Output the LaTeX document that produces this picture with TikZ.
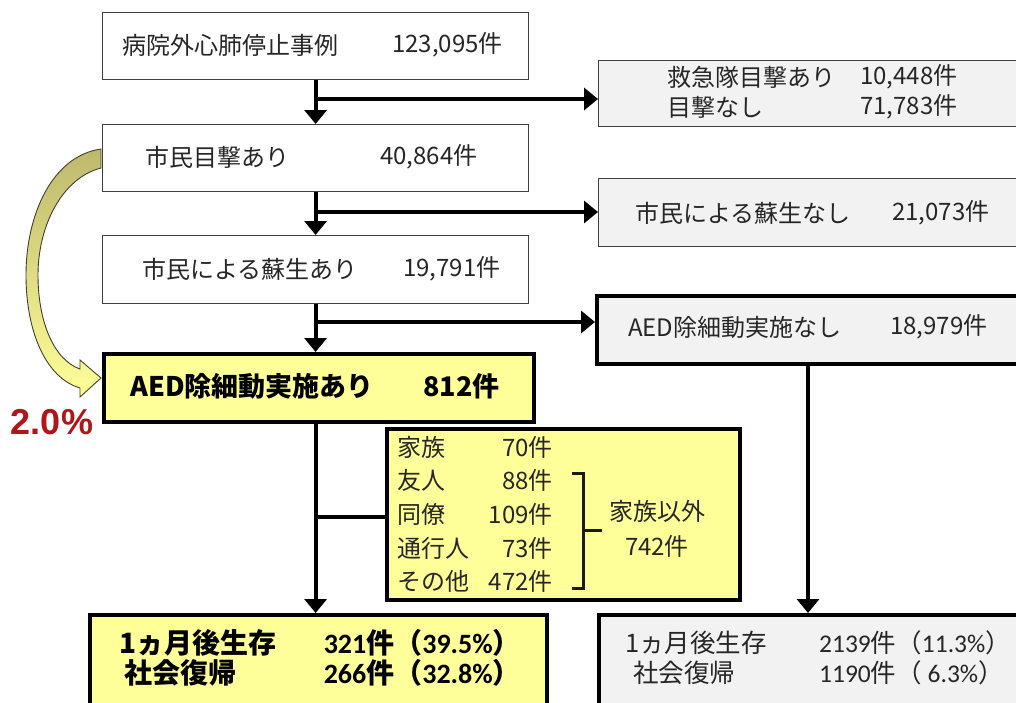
\documentclass[tikz,border=0pt]{standalone}
\usepackage{fontspec}
\setmainfont{Noto Sans CJK JP}
\newfontfamily\carl{Carlito}
\newfontfamily\libs{Liberation Sans}
\usetikzlibrary{arrows.meta}
\definecolor{boxgrey}{RGB}{242,242,242}
\definecolor{boxyel}{RGB}{255,255,153}
\definecolor{pctred}{RGB}{176,21,27}
\definecolor{olivetop}{RGB}{190,184,110}
\definecolor{txtc}{RGB}{38,38,38}
\tikzset{
  thinbox/.style={draw=black!75, line width=1.2pt, fill=white, inner sep=0, anchor=north west},
  greybox/.style={draw=black!75, line width=1.2pt, fill=boxgrey, inner sep=0, anchor=north west},
  thickgrey/.style={draw=black, line width=3.5pt, fill=boxgrey, inner sep=0, anchor=north west},
  yelbox/.style={draw=black, line width=3.5pt, fill=boxyel, inner sep=0, anchor=north west},
  txt/.style={inner sep=0, anchor=west, text=txtc, font=\fontsize{24}{28}\selectfont},
  txtr/.style={txt, anchor=east},
  txtc/.style={txt, anchor=center},
  bold/.style={txt, text=black, font=\fontsize{27}{31}\selectfont\bfseries},
  flow/.style={line width=4pt, -{Triangle[width=22pt,length=14pt]}},
  plain/.style={line width=4pt},
}
\begin{document}
\begin{tikzpicture}[x=1pt,y=-1pt]
\useasboundingbox (0,0) rectangle (1016,702);
\clip (0,0) rectangle (1016,702);
\fill[white] (0,0) rectangle (1016,702);

% boxes
\node[thinbox, minimum width=426pt, minimum height=67pt] (b1) at (102,12) {};
\node[thinbox, minimum width=426pt, minimum height=67pt] (b2) at (102,124) {};
\node[thinbox, minimum width=426pt, minimum height=68pt] (b3) at (102,235) {};
\node[yelbox, minimum width=430pt, minimum height=68pt] (b4) at (102,352) {};
\node[greybox, minimum width=430pt, minimum height=66pt] (r1) at (598,60) {};
\node[greybox, minimum width=430pt, minimum height=68pt] (r2) at (598,178) {};
\node[thickgrey, minimum width=440pt, minimum height=68pt] (r3) at (595,294) {};
\node[yelbox, minimum width=353pt, minimum height=171pt] (in) at (385,427) {};
\node[yelbox, minimum width=457pt, minimum height=100pt] (bl) at (88,613) {};
\node[thickgrey, minimum width=440pt, minimum height=100pt] (br) at (597,613) {};

% connectors
\draw[flow] (b1.south) -- (b2.north);
\draw[flow] (b1.south |- 0,99) coordinate (j1) -- (j1 -| r1.west);
\draw[flow] (b2.south) -- (b3.north);
\draw[flow] (b2.south |- 0,212) coordinate (j2) -- (j2 -| r2.west);
\draw[flow] (b3.south) -- (b3.south |- b4.north);
\draw[flow] (b3.south |- 0,322) coordinate (j3) -- (j3 -| r3.west);
\draw[flow] (b3.south |- b4.south) -- (b3.south |- bl.north);
\draw[plain] (b3.south |- 0,517) coordinate (j4) -- (j4 -| in.west);
\coordinate (rv) at (808,362);
\draw[flow] (rv) -- (rv |- br.north);

% curved block arrow
\shade[top color=olivetop, bottom color=boxyel, draw=black!70!olive, line width=0.9pt]
  (101,149) .. controls (52,156) and (26,215) .. (26,275)
  .. controls (26,332) and (46,378) .. (80,388)
  -- (80,397) -- (101,378) -- (80,360) -- (80,369)
  .. controls (54,360) and (38,322) .. (38,275)
  .. controls (38,226) and (62,178) .. (101,168) -- cycle;

% texts
\node[txt] (t1) at (122,45) {病院外心肺停止事例};
\node[txt] (n1) at (392,45) {123,095件};
\node[txt] (t2) at (145,157) {市民目撃あり};
\node[txt] (n2) at (380,157) {40,864件};
\node[txt] (t3) at (142,269) {市民による蘇生あり};
\node[txt] (n3) at (403,269) {19,791件};
\node[bold] (t4) at (130,386) {AED除細動実施あり};
\node[bold] (n4) at (423,386) {812件};

\node[txt] (rt1) at (667,77) {救急隊目撃あり};
\node[txt] (rn1) at (860,77) {10,448件};
\node[txt] (rt1b) at (667,107) {目撃なし};
\node[txt] (rn1b) at (860,107) {71,783件};
\node[txt] (rt2) at (635,213) {市民による蘇生なし};
\node[txt] (rn2) at (892,213) {21,073件};
\node[txt] (rt3) at (628,327) {AED除細動実施なし};
\node[txt] (rn3) at (890,327) {18,979件};

\node[txt] (i1) at (397,447) {家族};
\node[txtr] (k1) at (553,447) {70件};
\node[txt] (i2) at (397,480) {友人};
\node[txtr] (k2) at (553,480) {88件};
\node[txt] (i3) at (397,514) {同僚};
\node[txtr] (k3) at (553,514) {109件};
\node[txt] (i4) at (397,548) {通行人};
\node[txtr] (k4) at (553,548) {73件};
\node[txt] (i5) at (397,581) {その他};
\node[txtr] (k5) at (553,581) {472件};
\draw[line width=3pt, black!90] (572,473) -- (583,473) -- (583,588) -- (572,588);
\draw[line width=3pt, black!90] (583,530) -- (602,530);
\node[txtc] (o1) at (657,511) {家族以外};
\node[txtc] (o2) at (657,546) {742件};

\node[text=pctred, font=\libs\fontsize{36}{40}\selectfont\bfseries, inner sep=0] (pct) at (52,422) {2.0\%};

\node[txt, text=black, font=\fontsize{28}{32}\selectfont\bfseries] (s1) at (119,643) {1ヵ月後生存};
\node[txt, text=black, font=\fontsize{28}{32}\selectfont\bfseries] (s2) at (124,673) {社会復帰};
\node[txtr, text=black, font=\fontsize{28}{32}\selectfont\bfseries] (sn1) at (521,643) {{\carl\bfseries 321}件（{\carl\bfseries 39.5\%}）};
\node[txtr, text=black, font=\fontsize{28}{32}\selectfont\bfseries] (sn2) at (521,673) {{\carl\bfseries 266}件（{\carl\bfseries 32.8\%}）};

\node[txt, font=\fontsize{25.5}{30}\selectfont] (u1) at (625,643) {1ヵ月後生存};
\node[txt, font=\fontsize{25.5}{30}\selectfont] (u2) at (633,673) {社会復帰};
\node[txt, font=\fontsize{25.5}{30}\selectfont] (un1) at (819,643) {{\carl 2139}件（{\carl 11.3\%}）};
\node[txt, font=\fontsize{25.5}{30}\selectfont] (un2) at (819,673) {{\carl 1190}件（{\carl\ 6.3\%}）};
\end{tikzpicture}
\end{document}
